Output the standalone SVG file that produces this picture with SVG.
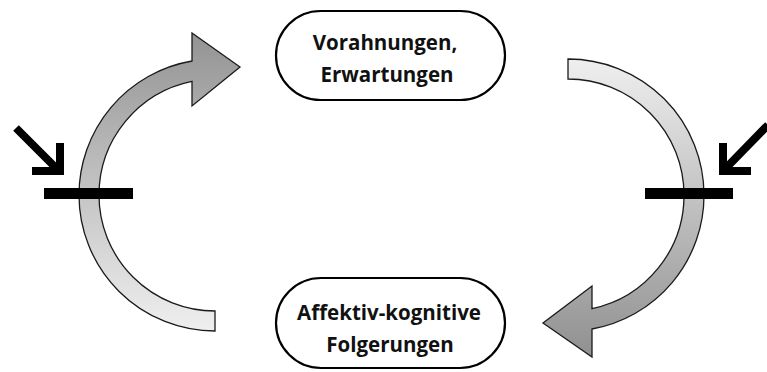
<svg xmlns="http://www.w3.org/2000/svg" width="767" height="372" viewBox="0 0 767 372">
<style>
.node{fill:#fff;stroke:#000;stroke-width:2.2}
.lbl{font-family:"Open Sans","Liberation Sans",sans-serif;font-weight:bold;font-size:20.5px;fill:#111;text-anchor:middle}
.arc{stroke:#1a1a1a;stroke-width:1.3;stroke-linejoin:miter}
.bar{fill:#000}
.blk{fill:none;stroke:#000;stroke-width:8;stroke-linecap:butt;stroke-linejoin:miter}
</style>
<defs>
<linearGradient id="gL" gradientUnits="userSpaceOnUse" x1="0" y1="33" x2="0" y2="331">
<stop offset="0" stop-color="#939393"/>
<stop offset="1" stop-color="#efefef"/>
</linearGradient>
<linearGradient id="gR" gradientUnits="userSpaceOnUse" x1="0" y1="59" x2="0" y2="357">
<stop offset="0" stop-color="#efefef"/>
<stop offset="1" stop-color="#909090"/>
</linearGradient>
</defs>
<g id="connectors">
<path class="arc" fill="url(#gL)" d="M79,195 A136,136 0 0 1 192,61 L192,33 L240,67 L192,106 L192,81.3 A116,116 0 0 0 99,195 Z"/>
<path class="arc" fill="url(#gL)" d="M79,195 A136,136 0 0 0 215,331 L215,311 A116,116 0 0 1 99,195 Z"/>
<path class="arc" fill="url(#gR)" d="M568,59 A136,136 0 0 1 704,195 L684,195 A116,116 0 0 0 568,79 Z"/>
<path class="arc" fill="url(#gR)" d="M704,195 A136,136 0 0 1 592,329 L592,357 L543,323 L592,286 L592,308.7 A116,116 0 0 0 684,195 Z"/>
<rect class="bar" x="44" y="188" width="89" height="11"/>
<rect class="bar" x="645" y="188" width="88" height="11"/>
<line class="blk" x1="16" y1="128" x2="58" y2="170"/>
<polyline class="blk" points="32,171 60,171 60,143"/>
<line class="blk" x1="768" y1="125" x2="725" y2="169"/>
<polyline class="blk" points="751,171 723,171 723,143"/>
</g>
<g id="node-top">
<rect class="node" x="276" y="11" width="229" height="89" rx="44.5"/>
<text class="lbl" x="385" y="50">Vorahnungen,</text>
<text class="lbl" x="387" y="82">Erwartungen</text>
</g>
<g id="node-bottom">
<rect class="node" x="276" y="278" width="229" height="90" rx="45"/>
<text class="lbl" x="389" y="320">Affektiv-kognitive</text>
<text class="lbl" x="390" y="352">Folgerungen</text>
</g>
</svg>
